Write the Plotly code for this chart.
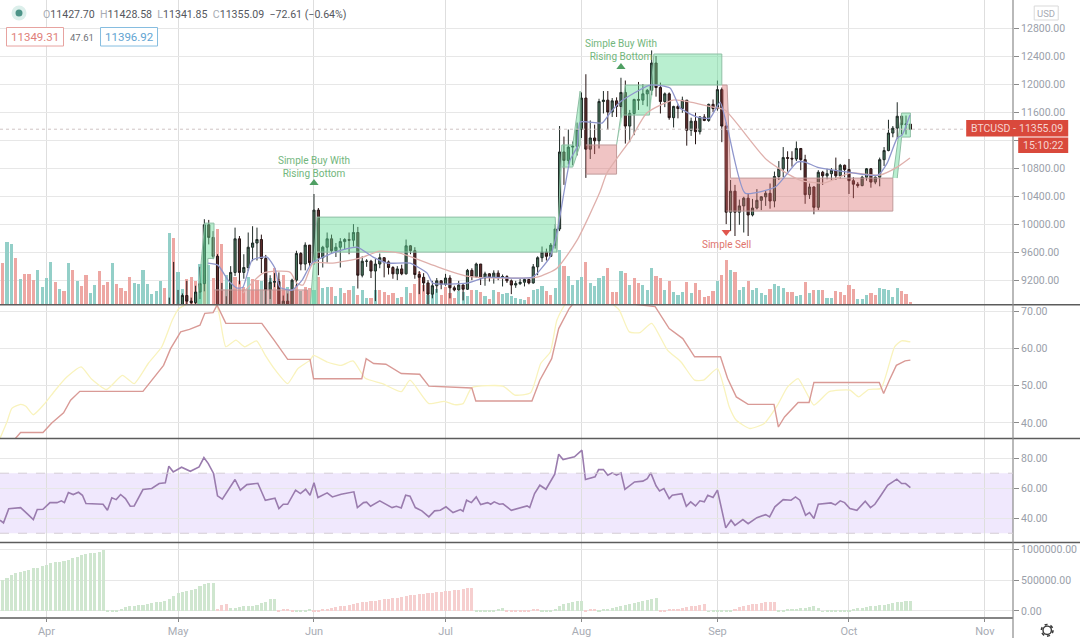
from datetime import datetime, timedelta
import plotly.graph_objects as go

BASE = datetime(2020, 4, 1)

# ---------- candles: Apr 29 .. Oct 15 ----------
CANDLE_START_DAY = 28
FIRST_OPEN = 7750
LAST_OPEN = 11427.70
CLOSE = [8780,8620,8820,8980,8900,8880,9030,9150,9990,9810,9540,8720,8560,8810,9310,9790,9310,9380,9670,9730,9780,9510,9060,9170,9180,8720,8900,8840,9200,9580,9430,9700,9450,
10200,9520,9670,9790,9620,9670,9750,9780,9770,9880,9270,9470,9470,9330,9430,9520,9460,9380,9290,9360,9290,9690,9620,9280,9240,9160,9000,9120,9190,9140,
9230,9090,9060,9130,9070,9340,9250,9430,9230,9290,9240,9300,9240,9250,9190,9130,9150,9170,9210,9160,9390,9520,9600,9540,9700,9930,11030,10910,11100,11110,11350,
11800,11070,11230,11190,11750,11770,11600,11760,11680,11880,11400,11580,11780,11770,11860,11910,12300,11950,11750,11860,11520,11680,11650,11770,11340,11470,11320,11530,11480,11710,11650,
11920,11400,10170,10470,10170,10260,10370,10130,10230,10340,10390,10440,10330,10680,10790,10950,10940,10930,11080,10920,10420,10530,10240,10740,10690,10720,10770,10690,10840,10780,
10620,10570,10550,10670,10790,10600,10670,10920,11050,11300,11370,11540,11420,11430,11355.09]
HIGH = [8950,9460,9060,9010,9190,8950,9120,9390,10070,10060,9900,9570,9160,8970,9400,9950,9830,9570,9880,9970,9950,9850,9560,9270,9300,9310,8980,9010,9220,9620,9600,9740,9700,
10430,10230,9690,9880,9850,9730,9800,9800,9880,10000,9960,9540,9500,9490,9500,9580,9530,9480,9400,9400,9420,9780,9700,9670,9330,9300,9200,9190,9230,9200,
9290,9270,9120,9190,9140,9360,9370,9450,9430,9320,9300,9340,9340,9280,9270,9210,9190,9220,9230,9220,9430,9540,9680,9650,9730,10000,11400,11250,11350,11180,11450,
11880,12140,11480,11420,11790,11900,11900,11800,11810,12090,12050,11630,11790,12030,12000,11930,12480,12400,12020,11880,11880,11690,11710,11820,11770,11520,11590,11540,11570,11720,11780,
12050,11950,11450,10630,10560,10350,10390,10440,10360,10500,10400,10480,10580,10750,10900,11100,11040,11040,11180,11060,10990,10580,10540,10770,10760,10790,10800,10950,10860,10850,
10930,10670,10600,10690,10800,10800,10680,10950,11100,11490,11400,11740,11550,11550,11428.58]
LOW = [7710,8420,8620,8760,8700,8530,8780,8930,9040,9710,9500,8200,8200,8540,8800,9260,9140,9220,9330,9470,9480,9300,8820,8930,9100,8700,8640,8700,8810,9110,9340,9340,9400,
9420,9270,9380,9450,9590,9530,9380,9630,9570,9680,9080,9240,9390,9230,8900,9370,9240,9280,9220,9200,9270,9280,9570,9220,9000,9040,8830,8940,9020,9070,
9120,8940,9040,9050,8910,9060,9200,9230,9130,9120,9180,9150,9200,9110,9160,9000,9090,9130,9110,9140,9150,9270,9460,9480,9530,9650,9900,10560,10850,10840,10980,
11230,10660,10930,11000,11080,11580,11350,11530,11530,11520,11150,11170,11270,11630,11700,11680,11840,11820,11580,11670,11490,11380,11510,11590,11120,11260,11140,11280,11470,11460,11600,
11620,11170,10000,9900,9830,9990,9880,9830,10110,10210,10200,10260,10220,10240,10630,10670,10750,10820,10900,10770,10290,10360,10140,10200,10560,10640,10620,10630,10650,10670,
10430,10370,10520,10540,10620,10520,10570,10540,10830,11040,11240,11220,11280,11280,11341.85]

# ---------- volume bars from day -10 ----------
VOL_START_DAY = -10
VOLUME = [42,63,61,47,26,31,31,25,35,18, 27,43,23,16,14,42,35,24,19,30, 12,20,34,20,23,42,21,17,14,28,
22,21,35,21,11,14,24,17,72,67, 33,16,26,28,24,41,30,40,27,76, 61,30,32,28,24,18,28,26,25,24,
30,27,37,26,30,18,16,20,14,18, 17,15,28,17,18,18,9,17,12,15, 19,10,15,7,7,15,15,13,10,12,
7,8,18,12,21,33,20,10,17,16, 10,18,12,7,14,13,9,15,15,13, 9,6,15,13,11,12,9,7,6,5,
8,15,16,19,14,10,17,55,39,29, 20,25,28,43,22,19,27,29,37,13, 13,34,32,20,27,22,20,15,37,29,
27,15,24,13,10,13,23,12,22,15, 8,9,14,24,30,45,35,33,15,18, 24,15,17,12,10,16,21,19,17,13,
13,9,10,23,12,15,15,15,7,7, 14,13,10,20,16,6,6,10,12,10, 17,16,15,8,17,14,11,2.5]
VOL_SIDE = ("sttstssstt" "ttstststss" "ttssstssss" "tttttttsts" "ttssststss" "sttssstsst" "ttssstssts"
            "ststtsttss" "tsttstssss" "tstssssttt" "sssstttsts" "tststttttt" "stttssttst" "tttsttttss"
            "ststssttts" "ststttstss" "ssstsststt" "sttttsttts" "sttstststt" "ssssstttss" "tttttsss")

# ---------- moving averages (day offset from Apr 1, price) ----------
MA_FAST_DAY = [36.8,39.1,41.4,43.4,44.8,46.9,50.3,52.1,53.2,56,58.3,60.5,65.8,70.8,74.5,77.7,82.9,86.8,88.1,95.9,100.4,106.4,110.9,114.8,116.4,119.4,121,121.7,126.7,128.5,130.8,137.6,142.2,144.5,148.4,151.3,153.6,155.4,159.3,166.2,171.2,173,175.7,182.8,189.6,191.7,194,195.1,196.9]
MA_FAST = [9443,9414,9200,9086,9100,9486,9529,9371,9100,9057,9200,9443,9600,9671,9529,9443,9443,9300,9157,9157,9243,9229,9243,9529,9871,10914,11100,11457,11443,11586,11743,11986,11943,11657,11529,11514,11743,11343,10443,10529,10886,10886,10814,10743,10700,10871,11229,11271,11557]
MA_SLOW_DAY = [44.8,49.4,55.5,57.1,58.5,60.8,65.3,71.5,76,80.6,88.1,95.9,106.4,111.9,116.4,121,126.2,127.8,133.1,136.9,142.9,146.8,152,154.7,164.3,171.8,177.3,183.2,190,194,196.9]
MA_SLOW = [9014,9300,9314,9157,9129,9443,9443,9514,9614,9586,9414,9257,9229,9243,9371,9771,10457,10729,11200,11586,11771,11743,11671,11629,10914,10629,10586,10729,10700,10814,10943]

# ---------- zones: polygon vertices (day offset, price) ----------
ZONE_GREEN = [
 ([34.3,36.1,38.2,38.2,36.8,36.8],[8800,10014,10014,9510,9510,8800]),
 ([60.1,61.7,116,116.4,61.7,61.7],[8800,10100,10100,9600,9600,8800]),
 ([116.4,117.5,120,121.7,121.7,120,117.5],[9600,11130,11130,11900,11130,10814,10814]),
 ([130,132,137.5,137.5,131.5],[11130,11986,11986,11557,11557]),
 ([137.5,138.5,154,154,138.5],[11557,12429,12429,11986,11986]),
 ([193,195,197,197,195,194],[10657,11586,11586,11243,11243,10657]),
]
ZONE_RED = [
 ([38.2,59.5,59.5,38.2],[9060,9060,8800,8800]),
 ([123,130,130,123],[11130,11130,10714,10714]),
 ([154,155.2,156,193,193,155],[11986,11986,10657,10657,10186,10186]),
]

# ---------- oscillator: yellow + red lines (day offset, value) ----------
OSC_Y_DAY = [-10.6,-9,-7.9,-5.9,-4.7,-3,-0.4,2,4.7,7.9,10.2,13.7,17.3,20,23.2,26.3,28.7,30.2,32.6,36.5,38.9,40.9,43.2,45.2,47.9,49.9,52.2,55,57.3,60.1,60.9,64,67.2,69.9,72.7,76.6,80.9,82.9,87.2,90.7,93.1,95,97,104.1,106.8,110.4,112.7,114.9,116.4,118.8,128.2,130.6,132.9,135.3,138,141.6,144.7,147.8,149.8,153,155.7,157.3,160.4,163.6,166.7,169,171.4,173,175,178.5,183.2,185.2,187.5,190.3,193.4,195,197]
OSC_Y = [35.8,40.3,43.9,45,44.5,42.2,45.2,48.8,52.4,55.1,51.9,49,52.8,50.6,56,60.5,67.7,70.8,72.2,72.6,71.3,60.5,62.3,60.5,62.1,58.2,54.2,50.6,54.6,56.9,58.2,56.4,55.5,56.7,52,50.6,48.4,51.5,45.2,45.8,44.9,45.2,49.5,49.9,47.5,48.1,56,59.1,67.7,72.6,72.6,70.4,64.5,64.3,66.8,59.6,56.4,51.5,51.5,54.6,44.3,40.7,38.5,39.8,44.8,49.7,51.9,48.8,44.8,48.4,48.8,47,49,49.3,60.5,62.1,61.8]
OSC_R_DAY = [-7.1,-5.9,-0.8,1.2,3.9,5.5,7.6,22,26.7,28.3,30.6,32.6,35,36.1,38,38.9,40.9,49.1,51.9,55,60.1,60.9,71.9,72.9,74.6,77.4,80.9,85.1,87.2,97,97.9,110.7,112.5,115.2,116.8,119.2,120.4,132.1,138.8,142,145.1,147.8,153.7,155.3,157.3,160,165.9,166.9,168.3,171.4,173.9,175,189.9,190.9,192.2,193.8,195.8,197]
OSC_R = [35.8,37.4,37.4,40,42.7,46.1,48.5,48.5,55.5,60,64.5,65.2,66.3,69.5,69.7,71.7,66.8,66.8,62.3,57.1,57.1,51.9,51.9,57.3,56,55.8,53.3,53.1,49.9,49.4,45.9,45.9,51.5,57.3,65.4,70.8,72.6,72.2,71.3,65.4,62.7,57.8,57.8,52,47,45,45,38.9,41.6,45.5,45.5,50.9,50.9,47.9,51.5,55.5,56.7,56.9]

# ---------- RSI ----------
RSI_DAY = [-10.6,-9.8,-8.6,-5.9,-4.3,-3,-2.1,-0.8,0.8,2.4,3.4,4.1,5,6.1,7.3,8.2,9,12.9,13.9,14.9,15.9,16.9,18,19.1,20,22,24,25.7,27.1,27.9,28.9,30.8,32.8,34.8,35.9,36.9,38.1,39,40.1,43,44.2,45.7,48.2,49.9,52.1,53,54,55,56.8,57.9,59.1,60.1,61,61.9,64,65.2,67.2,70.1,70.9,72.3,73,73.9,76,78.8,79.8,80.9,81.9,82.9,84.1,85.6,87.2,88.5,89.8,91.1,92.7,94.4,95,95.8,96.9,98,99,100.6,101.3,102.1,103.3,104.1,106,109.6,110.2,111.3,112.5,113.9,115.9,116.8,117.8,120.4,122.1,122.9,125.1,125.9,127,128,129,130,131,131.9,134.1,136,137,137.8,139,139.8,140.8,142,142.7,144.9,145.9,146.9,148,149,150,150.8,152,153,154.9,156.1,157,158.8,160,162,164,164.9,166.1,168,169.8,170.8,171.8,173.1,174,175,176,178.1,178.9,179.9,181,182,183.2,184.8,186.7,187.9,188.9,190.3,191.8,193.9,195,195.9,197]
RSI = [38.7,36.9,46.4,47.1,42.7,39.1,45.8,46,50.4,50.4,51.6,50.4,57.1,55.8,57.3,55.3,49.8,49.3,45.3,53.6,52.4,55.8,53.1,48,48.2,59.1,59.8,63.1,63.6,74.7,70.9,74,71.3,74.2,80.4,76.4,69.8,54.9,52.7,65.8,58.7,62.4,63.3,52,53.3,46.4,49.3,49.3,58.7,56.4,59.3,55.3,63.6,53.8,56.9,54.2,56,57.6,47.1,50.4,50.7,48,51.6,47.1,48,46.9,55.3,54.7,47.1,44.9,40.9,44.9,45.3,47.6,43.8,45.8,44.7,52,50.4,54.2,49.1,50.4,49.3,50.9,49.3,49.6,45.3,48.2,47.1,56.4,62,59.3,69.3,82.7,79.1,80.9,85.3,65.8,67.6,72.4,72.4,68.7,70.2,68.7,70.2,59.3,64.2,64.7,66.4,70.2,61.6,58.2,59.8,53.1,55.3,56.4,48,50.9,48.2,51.6,50.9,55.3,53.8,58.7,33.6,38.7,35.3,39.1,36.4,40.4,42.4,40.9,47.6,52.4,52,54.2,52,42,43.8,39.8,49.3,49.8,50.2,48.9,51.6,50.4,46.4,45.3,51.3,47.1,49.3,55.3,62,66,63.1,63.1,60.4]

# ---------- bottom histogram, days -10 .. 197, thousands ----------
HIST = [510,540,590,620,640,660,680,700,715,735,755,790,800,805,815,840,870,895,915,930,945,960,975,995,
10,15,30,45,65,80,90,100,110,120,130,145,160,175,210,250,300,320,335,350,370,410,450,460,470,
45,100,115,
55,60,70,80,90,95,110,130,150,200,205,
20,35,40,25,
10,15,20,35,
10,20,35,45,55,70,85,95,105,120,135,145,155,165,175,185,195,205,215,225,235,250,260,270,280,285,295,300,310,320,330,340,345,355,365,375,385,
8,12,18,22,28,35,50,
10,15,20,25,28,30,38,40,
10,15,20,40,90,120,140,155,165,175,
30,40,45,
30,35,45,55,75,95,105,120,135,150,165,185,205,220,
25,30,35,40,45,55,70,85,95,110,115,
5,10,15,25,30,15,
40,65,85,100,115,125,135,145,155,155,
25,30,35,40,45,55,60,70,80,55,
5,8,10,12,15,20,30,35,50,60,70,80,90,100,110,120,135,145,160,170,175]
HIST_SIDE = "g"*49+"r"*3+"g"*11+"r"*4+"g"*4+"r"*37+"g"*7+"r"*8+"g"*10+"r"*3+"g"*14+"r"*11+"g"*6+"r"*10+"g"*31

MONTH_TICKS = ["2020-04-01","2020-05-01","2020-06-01","2020-07-01","2020-08-01","2020-09-01","2020-10-01","2020-11-01"]
MONTH_LABELS = ["Apr","May","Jun","Jul","Aug","Sep","Oct","Nov"]
PRICE_TICKS = [9200,9600,10000,10400,10800,11200,11600,12000,12400,12800]
PRICE_LABELS = ["9200.00","9600.00","10000.00","10400.00","10800.00","","11600.00","12000.00","12400.00","12800.00"]
OSC_TICKS = [40,50,60,70]
RSI_TICKS = [40,60,80]
HIST_TICKS = [0,500000,1000000]

LAST = 11355.09
SIGNALS = [("Simple Buy With<br>Rising Bottom", 61, 10586, 10821, "triangle-up", "#4f9f63", "#72b67c"),
           ("Simple Buy With<br>Rising Bottom", 131, 12243, 12479, "triangle-up", "#4f9f63", "#72b67c"),
           ("Simple Sell", 155, 9886, 9714, "triangle-down", "#e0564e", "#e0746c")]

W, H = 1080, 638
PW, PH = 1012.8, 617.7
def day(d): return BASE + timedelta(days=d)
def px(x): return x / PW
def py(y): return (PH - y) / PH

cdays = [day(CANDLE_START_DAY + i) for i in range(len(CLOSE))]
OPEN = [FIRST_OPEN] + CLOSE[:-1]
OPEN[-1] = LAST_OPEN

fig = go.Figure()
vdays = [day(VOL_START_DAY + i) for i in range(len(VOLUME))]
fig.add_bar(x=vdays, y=VOLUME, yaxis="y", width=0.72*86400000,
            marker=dict(color=["#93cfc8" if s == "t" else "#eda7a3" for s in VOL_SIDE], line_width=0))
for zones, fc, lc in ((ZONE_GREEN, "rgba(100,220,150,0.45)", "#8fbfa5"), (ZONE_RED, "rgba(215,100,100,0.38)", "#c09a9a")):
    for xs, ys in zones:
        fig.add_scatter(x=[day(v) for v in xs], y=ys, yaxis="y5", mode="lines", fill="toself", fillcolor=fc,
                        line=dict(color=lc, width=1))
fig.add_scatter(x=[day(v) for v in MA_SLOW_DAY], y=MA_SLOW, yaxis="y5", mode="lines",
                line=dict(color="#dfb0ac", width=1.3, shape="spline", smoothing=0.6))
fig.add_scatter(x=[day(v) for v in MA_FAST_DAY], y=MA_FAST, yaxis="y5", mode="lines",
                line=dict(color="#8f96cc", width=1.3, shape="spline", smoothing=0.5))
fig.add_candlestick(x=cdays, open=OPEN, high=HIGH, low=LOW, close=CLOSE, yaxis="y5", whiskerwidth=0,
                    increasing=dict(fillcolor="#47745c", line=dict(color="#1f2a26", width=1)),
                    decreasing=dict(fillcolor="#5e2c2c", line=dict(color="#261414", width=1)))
for label, d, p, tp, sym, mc, tc in SIGNALS:
    fig.add_scatter(x=[day(d)], y=[p], yaxis="y5", mode="markers", marker=dict(symbol=sym, size=8, color=mc))

fig.add_scatter(x=[day(v) for v in OSC_Y_DAY], y=OSC_Y, yaxis="y2", mode="lines",
                line=dict(color="#f9f3bd", width=1.3, shape="spline", smoothing=0.5))
fig.add_scatter(x=[day(v) for v in OSC_R_DAY], y=OSC_R, yaxis="y2", mode="lines", line=dict(color="#d99a96", width=1.4))
fig.add_scatter(x=[day(v) for v in RSI_DAY], y=RSI, yaxis="y3", mode="lines", line=dict(color="#9a7cae", width=1.6))
fig.add_bar(x=vdays, y=[v*1000 for v in HIST], yaxis="y4", width=0.7*86400000,
            marker=dict(color=["#cfe6cf" if s == "g" else "#f6cfcf" for s in HIST_SIDE], line_width=0))

GRID = "#e7e7e7"
AX = dict(side="right", showgrid=True, gridcolor=GRID, gridwidth=1, zeroline=False, ticks="outside", ticklen=5,
          tickcolor="#8a8a8a", tickformat=".2f", tickfont=dict(family="Roboto", size=10.5, color="#9aa0aa"),
          showline=False, anchor="x", ticklabelposition="outside", fixedrange=True)
shapes, ann = [], []
# pane separators and price axis
for y, x1 in ((304.5, W/PW), (438.3, W/PW), (542.3, W/PW), (617.7, 1)):
    shapes.append(dict(type="line", xref="paper", yref="paper", x0=0, x1=x1, y0=py(y), y1=py(y), line=dict(color="#5c5c5c", width=1.5)))
shapes.append(dict(type="line", xref="paper", yref="paper", x0=1, x1=1, y0=py(0), y1=py(638), line=dict(color="#8a8a8a", width=1.2)))
# last price dotted line
shapes.append(dict(type="line", xref="paper", yref="y5", x0=0, x1=1, y0=LAST, y1=LAST, line=dict(color="#cfc4c4", width=1, dash="dot")))
# RSI band
shapes.append(dict(type="rect", xref="paper", yref="y3", x0=0, x1=1, y0=30, y1=70, layer="below", line_width=0, fillcolor="rgba(150,90,240,0.14)"))
for lv in (30, 70):
    shapes.append(dict(type="line", xref="paper", yref="y3", x0=0, x1=1, y0=lv, y1=lv, line=dict(color="#d5cdd5", width=1, dash="dash")))

def box(x0, y0, x1, y1, fill="rgba(0,0,0,0)", line="rgba(0,0,0,0)"):
    shapes.append(dict(type="rect", xref="paper", yref="paper", x0=px(x0), x1=px(x1), y0=py(y1), y1=py(y0),
                       fillcolor=fill, line=dict(color=line, width=1)))
def text(x, y, s, color, size=10.5, anchor="left", family="Roboto"):
    ann.append(dict(xref="paper", yref="paper", x=px(x), y=py(y), text=s, showarrow=False, xanchor=anchor, yanchor="middle",
                    font=dict(family=family, size=size, color=color)))
def circle(cx, cy, r, fill="rgba(0,0,0,0)", line="rgba(0,0,0,0)", lw=0, dash=None):
    ln = dict(color=line, width=lw)
    if dash: ln["dash"] = dash
    shapes.append(dict(type="circle", xref="paper", yref="paper", x0=px(cx-r), x1=px(cx+r), y0=py(cy+r), y1=py(cy-r), fillcolor=fill, line=ln))

circle(19, 13, 7.5, fill="#dcefeb")
circle(19, 13, 3.5, fill="#4d9488")
G1, G2 = "#a8acb4", "#55585e"
hdr = (f"<span style='color:{G1}'>O</span>11427.70 &nbsp;<span style='color:{G1}'>H</span>11428.58 &nbsp;"
       f"<span style='color:{G1}'>L</span>11341.85 &nbsp;<span style='color:{G1}'>C</span>11355.09 &nbsp;−72.61 (−0.64%)")
text(40.5, 14.5, hdr, G2, size=10.6)
box(6.5, 27.5, 63.5, 46, fill="#fff", line="#e7a3a0")
text(35, 37, "11349.31", "#e07f7a", size=11.5, anchor="center")
text(82, 37, "47.61", "#6f7278", size=9.5, anchor="center")
box(100.5, 27.5, 157.5, 46, fill="#fff", line="#86bde0")
text(129, 37, "11396.92", "#62a4d2", size=11.5, anchor="center")
box(1034, 6, 1058, 20, fill="#fff", line="#d9d9d9")
text(1046, 13, "USD", "#a8acb4", size=9.5, anchor="center")
box(966, 120, 1068, 136.5, fill="#d9493c")
text(990, 128.5, "BTCUSD", "#f6d4d0", size=10.5, anchor="center")
text(1014, 128.5, "-", "#f6d4d0", size=10.5, anchor="center")
text(1041, 128.5, "11355.09", "#f6d4d0", size=10.5, anchor="center")
box(1018, 137.5, 1068, 153, fill="#d9493c")
text(1043, 145.5, "15:10:22", "#f6d4d0", size=10.5, anchor="center")
circle(1047, 630, 4.2, line="#3a3a3a", lw=1.4)
circle(1047, 630, 5.8, line="#3a3a3a", lw=1.6, dash="dot")
for label, d, p, tp, sym, mc, tc in SIGNALS:
    ann.append(dict(x=day(d), y=tp, xref="x", yref="y5", text=label, showarrow=False, align="center",
                    font=dict(family="Roboto", size=10, color=tc)))

fig.update_layout(
    width=W, height=H, autosize=False, showlegend=False, margin=dict(l=0, r=W-PW, t=0, b=H-PH, pad=0),
    paper_bgcolor="#ffffff", plot_bgcolor="#ffffff", bargap=0, barmode="overlay",
    xaxis=dict(type="date", range=[day(-10.6), day(220.4)], tickvals=MONTH_TICKS, ticktext=MONTH_LABELS, anchor="y4",
               showgrid=True, gridcolor="#dedede", gridwidth=1, zeroline=False, ticks="outside", ticklen=3, tickcolor="#8a8a8a",
               tickfont=dict(family="Roboto", size=11, color="#a8acb4"), rangeslider=dict(visible=False), fixedrange=True),
    yaxis=dict(domain=[py(304.5), 1], range=[0, 304.5], visible=False, showgrid=False, anchor="x", fixedrange=True),
    yaxis5=dict(AX, overlaying="y", range=[8850, 13200], tickvals=PRICE_TICKS, ticktext=PRICE_LABELS),
    yaxis2=dict(AX, domain=[py(438.3), py(304.5)], range=[35.8, 71.84], tickvals=OSC_TICKS),
    yaxis3=dict(AX, domain=[py(542.3), py(438.3)], range=[23.8, 93.1], tickvals=RSI_TICKS),
    yaxis4=dict(AX, domain=[0, py(542.3)], range=[-115000, 1115300], tickvals=HIST_TICKS),
    shapes=shapes, annotations=ann,
)
fig.write_html("out.html", post_script="document.body.style.margin='0';document.body.style.overflow='hidden';",
               config=dict(displayModeBar=False))
